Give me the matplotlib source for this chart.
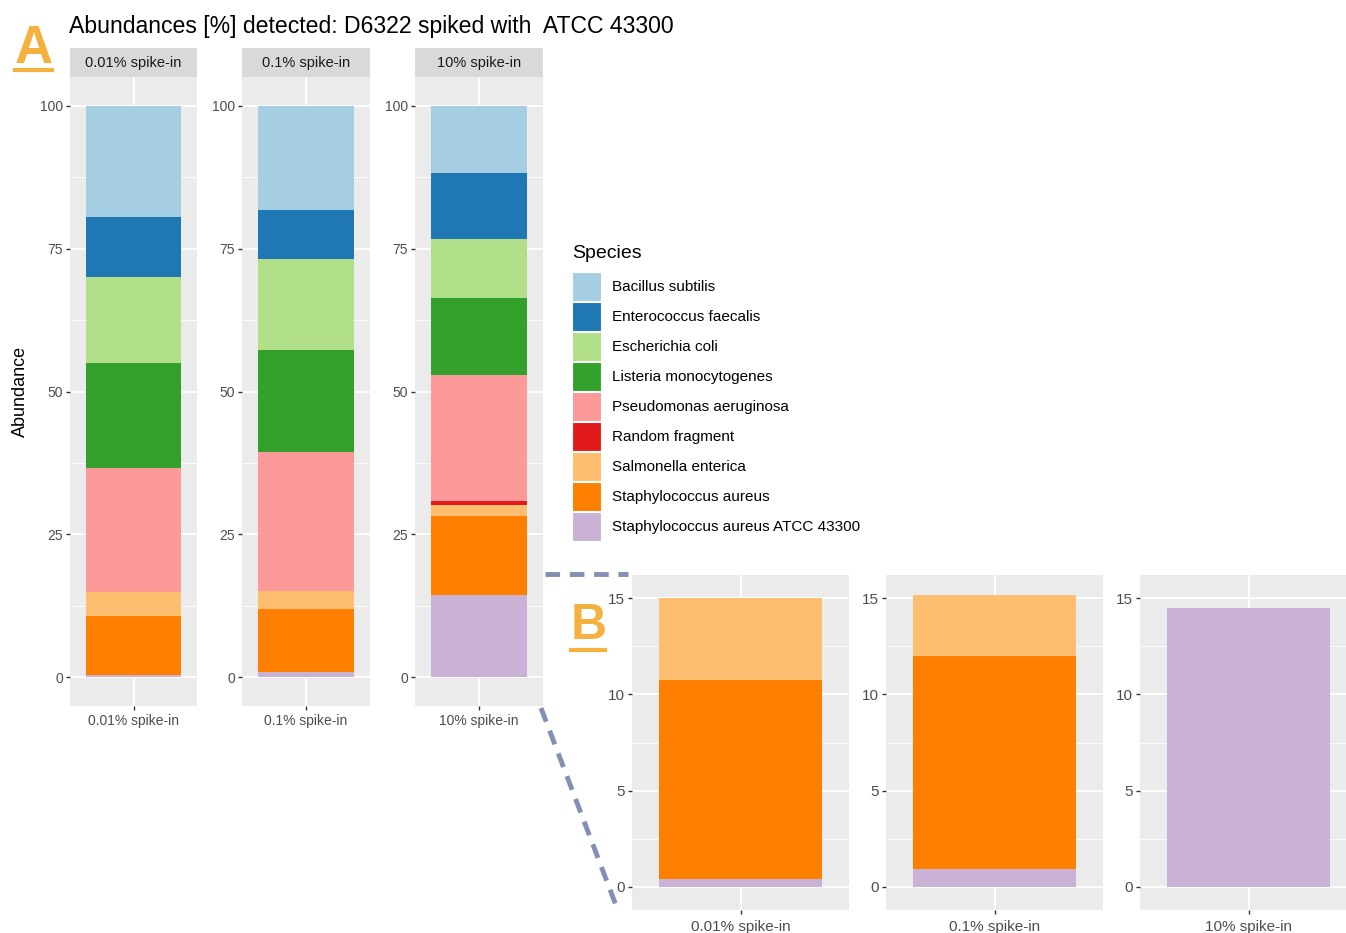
import matplotlib.pyplot as plt
from matplotlib.patches import Patch
from matplotlib.lines import Line2D

plt.rcParams['font.family'] = ['Liberation Sans', 'DejaVu Sans']

# species in legend order (first one ends up on top of the stack)
species = [
    "Bacillus subtilis", "Enterococcus faecalis", "Escherichia coli",
    "Listeria monocytogenes", "Pseudomonas aeruginosa", "Random fragment",
    "Salmonella enterica", "Staphylococcus aureus",
    "Staphylococcus aureus ATCC 43300",
]
colors = ["#A6CEE3", "#1F78B4", "#B2DF8A", "#33A02C", "#FB9A99",
          "#E31A1C", "#FDBF6F", "#FF7F00", "#CAB2D6"]

spike_labels = ["0.01% spike-in", "0.1% spike-in", "10% spike-in"]

# abundances [%] per sample, same order as species
abund_low = [19.4, 10.5, 15.2, 18.2, 21.7, 0.0, 4.26, 10.32, 0.42]
abund_mid = [18.2, 8.55, 15.95, 17.9, 24.25, 0.0, 3.16, 11.06, 0.93]
abund_high = [11.8, 11.5, 10.3, 13.5, 22.1, 0.7, 1.9, 13.73, 14.47]

# zoomed view (B): only the staphylococci / salmonella part
zoom_species = ["Salmonella enterica", "Staphylococcus aureus",
                "Staphylococcus aureus ATCC 43300"]
zoom_low = [4.26, 10.32, 0.42]
zoom_mid = [3.16, 11.06, 0.93]
zoom_high = [0.0, 0.0, 14.47]

W, H = 1346, 933
fig = plt.figure(figsize=(W / 100, H / 100), dpi=100)


def px_axes(x0, y0, x1, y1):
    return fig.add_axes([x0 / W, 1 - y1 / H, (x1 - x0) / W, (y1 - y0) / H])


def style_panel(ax, label, yticks, yminor, ylim, label_size):
    ax.set_facecolor("#EBEBEB")
    ax.set_xlim(0.4, 1.6)
    ax.set_ylim(*ylim)
    ax.set_yticks(yticks)
    ax.set_yticks(yminor, minor=True)
    ax.set_xticks([1])
    ax.set_xticklabels([label])
    ax.grid(True, which="major", color="white", linewidth=1.3)
    ax.grid(True, which="minor", axis="y", color="white", linewidth=0.6)
    ax.set_axisbelow(True)
    for s in ax.spines.values():
        s.set_visible(False)
    ax.tick_params(which="major", length=3, width=1, color="#333333",
                   labelcolor="#4D4D4D", labelsize=label_size, pad=2)
    ax.tick_params(which="minor", length=0)


def stacked(ax, values, names):
    bottom = 0
    for name, v in zip(reversed(names), reversed(values)):
        if v <= 0:
            continue
        ax.bar(1, v, bottom=bottom, width=0.9,
               color=colors[species.index(name)], zorder=2)
        bottom += v


# ---- panel A
a_boxes = [(70, 197), (242, 370), (415, 543)]
a_data = [abund_low, abund_mid, abund_high]
for (x0, x1), vals, lab in zip(a_boxes, a_data, spike_labels):
    ax = px_axes(x0, 77, x1, 706)
    stacked(ax, vals, species)
    style_panel(ax, lab, [0, 25, 50, 75, 100], [12.5, 37.5, 62.5, 87.5],
                (-5, 105), 10)
    ax.tick_params(axis="x", pad=3)
    strip = px_axes(x0, 48, x1, 77)
    strip.set_facecolor("#D9D9D9")
    strip.set_xticks([])
    strip.set_yticks([])
    for s in strip.spines.values():
        s.set_visible(False)
    strip.text(0.5, 0.5, lab, ha="center", va="center", fontsize=10.5,
               color="#1A1A1A", transform=strip.transAxes)
    if x0 == 70:
        ax.set_ylabel("Abundance", fontsize=13, labelpad=8)

fig.text(69 / W, 1 - 26 / H, "Abundances [%] detected: D6322 spiked with  ATCC 43300",
         fontsize=16.6, ha="left", va="center")

# ---- panel B
b_boxes = [(632, 849), (886, 1103), (1140, 1357)]
b_data = [zoom_low, zoom_mid, zoom_high]
for (x0, x1), vals, lab in zip(b_boxes, b_data, spike_labels):
    ax = px_axes(x0, 575, x1, 910)
    stacked(ax, vals, zoom_species)
    style_panel(ax, lab, [0, 5, 10, 15], [2.5, 7.5, 12.5], (-1.2, 16.2), 11)
    ax.tick_params(axis="x", pad=4)

# ---- legend (title placed separately to get ggplot's gap under it)
handles = [Patch(facecolor=c, edgecolor="white", linewidth=0.8) for c in colors]
leg = fig.legend(handles, species, loc="upper left",
                 bbox_to_anchor=(566 / W, 1 - 266 / H), frameon=False,
                 fontsize=11, handlelength=1.9,
                 handleheight=2.55, labelspacing=0.06, handletextpad=0.7,
                 borderaxespad=0)
fig.text(572 / W, 1 - 254 / H, "Species", fontsize=14, ha="left", va="center")

# ---- panel letters and zoom connectors
gold = "#F4B13F"
fig.text(15 / W, 1 - 49 / H, "A", fontsize=38, fontweight="bold", color=gold,
         ha="left", va="center")
fig.add_artist(Line2D([15 / W, 52 / W], [1 - 70 / H, 1 - 70 / H], color=gold,
                      linewidth=3, transform=fig.transFigure))
fig.text(571 / W, 1 - 626 / H, "B", fontsize=36, fontweight="bold", color=gold,
         ha="left", va="center")
fig.add_artist(Line2D([571 / W, 605 / W], [1 - 650 / H, 1 - 650 / H], color=gold,
                      linewidth=3, transform=fig.transFigure))

dash = "#8290B6"
fig.add_artist(Line2D([545 / W, 628 / W], [1 - 574 / H, 1 - 574 / H], color=dash,
                      linewidth=3.5, linestyle=(0, (3, 2)), transform=fig.transFigure))
fig.add_artist(Line2D([541 / W, 617 / W], [1 - 708 / H, 1 - 908 / H], color=dash,
                      linewidth=3.5, linestyle=(0, (3, 2)), transform=fig.transFigure))

fig.savefig("out.png", dpi=100)
